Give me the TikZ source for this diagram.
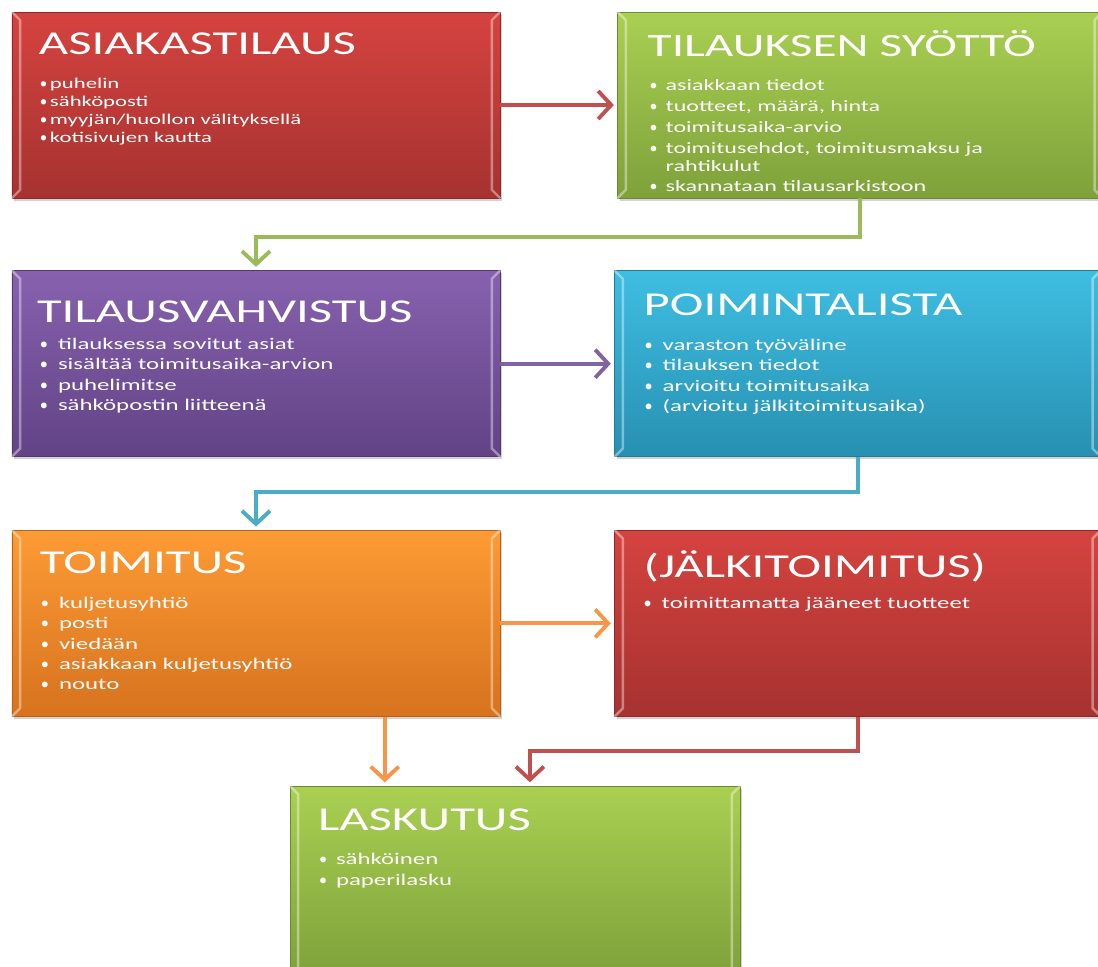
\documentclass[tikz,border=0pt]{standalone}
\usepackage{fontspec}
\setmainfont{Carlito}
\newfontfamily\leveafont[FakeStretch=1.52]{Carlito}
\newfontfamily\pistefont{Carlito}
\usetikzlibrary{calc,positioning,arrows.meta,shadows}
\newcommand{\kohta}[1][0.36cm]{\makebox[#1][l]{\pistefont •}}
\definecolor{punainenA}{HTML}{D5433F}
\definecolor{punainenB}{HTML}{A63230}
\definecolor{vihreaA}{HTML}{A9D052}
\definecolor{vihreaB}{HTML}{7EA13A}
\definecolor{violettiA}{HTML}{8761AE}
\definecolor{violettiB}{HTML}{624386}
\definecolor{syaaniA}{HTML}{3EBEE2}
\definecolor{syaaniB}{HTML}{2790B1}
\definecolor{oranssiA}{HTML}{FD9B35}
\definecolor{oranssiB}{HTML}{D7721E}
\definecolor{nuoliPun}{HTML}{C0504D}
\definecolor{nuoliVih}{HTML}{9BBB59}
\definecolor{nuoliVio}{HTML}{8064A2}
\definecolor{nuoliSya}{HTML}{4BACC6}
\definecolor{nuoliOra}{HTML}{F79646}
\tikzset{
    >={Straight Barb[length=2.6mm,width=5.6mm]},
    laatikko/.style 2 args={
      rectangle,
      top color=#1,
      bottom color=#2,
      draw=#2!85!black, thin,
      minimum width=9.76cm,
      minimum height=3.72cm,
      inner sep=0pt,
      drop shadow={shadow xshift=0.04cm, shadow yshift=-0.05cm, opacity=0.35}},
    bevel/.style={draw=white, draw opacity=0.4, line width=1.4pt},
    otsikko/.style={
      anchor=base west,
      inner sep=0pt,
      text=white,
      font=\leveafont\fontsize{19}{22}\selectfont},
    kohdat/.style={
      anchor=north west,
      inner sep=0pt,
      text=white,
      align=left,
      font=\leveafont\fontsize{9.3}{11.6}\selectfont},
    line/.style={draw=#1, line width=2.2pt, ->, shorten >=2pt},
}
\begin{document}
\begin{tikzpicture}
  \useasboundingbox (0,0) rectangle (21.96,-19.34);
  % laatikot
  \node[laatikko={punainenA}{punainenB}] (asiakas) at (5.12,-2.1) {};
  \node[laatikko={vihreaA}{vihreaB}, minimum width=9.7cm, right=2.34cm of asiakas] (syotto) {};
  \node[laatikko={violettiA}{violettiB}, below=1.44cm of asiakas] (vahvistus) {};
  \node[laatikko={syaaniA}{syaaniB}, minimum width=9.72cm, right=2.28cm of vahvistus] (poiminta) {};
  \node[laatikko={oranssiA}{oranssiB}, below=1.46cm of vahvistus] (toimitus) {};
  \node[laatikko={punainenA}{punainenB}, minimum width=9.72cm, right=2.28cm of toimitus] (jalki) {};
  \node[laatikko={vihreaA}{vihreaB}, minimum width=9cm, minimum height=3.8cm,
        below right=1.38cm and 5.56cm of toimitus.south west] (laskutus) {};
  \foreach \b in {asiakas,syotto,vahvistus,poiminta,toimitus,jalki,laskutus} {
    \draw[bevel] (\b.north west) -- ++(0.17,-0.17) -- ($(\b.south west)+(0.17,0.17)$) -- (\b.south west);
    \draw[bevel] (\b.north east) -- ++(-0.17,-0.17) -- ($(\b.south east)+(-0.17,0.17)$) -- (\b.south east);
  }
  % tekstit
  \node[otsikko] (asiakas-o) at ($(asiakas.north west)+(0.54,-0.86)$) {ASIAKASTILAUS};
  \node[kohdat, font=\leveafont\fontsize{8.5}{10.2}\selectfont] (asiakas-k)
    at ($(asiakas.north west)+(0.56,-1.33)$)
    {\kohta[0.2cm]puhelin\\\kohta[0.2cm]sähköposti\\\kohta[0.2cm]myyjän/huollon välityksellä\\\kohta[0.2cm]kotisivujen kautta};
  \node[otsikko, font=\leveafont\fontsize{18.5}{22}\selectfont] (syotto-o) at ($(syotto.north west)+(0.6,-0.9)$) {TILAUKSEN SYÖTTÖ};
  \node[kohdat, font=\leveafont\fontsize{9}{11.8}\selectfont] (syotto-k)
    at ($(syotto.north west)+(0.64,-1.36)$)
    {\kohta[0.32cm]asiakkaan tiedot\\\kohta[0.32cm]tuotteet, määrä, hinta\\\kohta[0.32cm]toimitusaika-arvio\\
     \kohta[0.32cm]toimitusehdot, toimitusmaksu ja\\[-1.6pt]\hspace*{0.32cm}rahtikulut\\\kohta[0.32cm]skannataan tilausarkistoon};
  \node[otsikko] (vahvistus-o) at ($(vahvistus.north west)+(0.5,-1.04)$) {TILAUSVAHVISTUS};
  \node[kohdat] (vahvistus-k) at ($(vahvistus.north west)+(0.56,-1.35)$)
    {\kohta tilauksessa sovitut asiat\\\kohta sisältää toimitusaika-arvion\\\kohta puhelimitse\\\kohta sähköpostin liitteenä};
  \node[otsikko] (poiminta-o) at ($(poiminta.north west)+(0.58,-0.9)$) {POIMINTALISTA};
  \node[kohdat] (poiminta-k) at ($(poiminta.north west)+(0.6,-1.37)$)
    {\kohta varaston työväline\\\kohta tilauksen tiedot\\\kohta arvioitu toimitusaika\\\kohta (arvioitu jälkitoimitusaika)};
  \node[otsikko] (toimitus-o) at ($(toimitus.north west)+(0.56,-0.86)$) {TOIMITUS};
  \node[kohdat] (toimitus-k) at ($(toimitus.north west)+(0.58,-1.33)$)
    {\kohta kuljetusyhtiö\\\kohta posti\\\kohta viedään\\\kohta asiakkaan kuljetusyhtiö\\\kohta nouto};
  \node[otsikko] (jalki-o) at ($(jalki.north west)+(0.58,-0.94)$) {(JÄLKITOIMITUS)};
  \node[kohdat] (jalki-k) at ($(jalki.north west)+(0.58,-1.33)$)
    {\kohta toimittamatta jääneet tuotteet};
  \node[otsikko] (laskutus-o) at ($(laskutus.north west)+(0.56,-0.9)$) {LASKUTUS};
  \node[kohdat] (laskutus-k) at ($(laskutus.north west)+(0.58,-1.35)$)
    {\kohta[0.34cm]sähköinen\\\kohta[0.34cm]paperilasku};
  % nuolet
  \coordinate (lask1) at ($(laskutus.north west)!0.211!(laskutus.north east)$);
  \coordinate (lask2) at ($(laskutus.north west)!0.533!(laskutus.north east)$);
  \draw[line=nuoliPun] (asiakas.east) -- (syotto.west);
  \draw[line=nuoliVih] (syotto.south) -- ++(0,-0.78) -| (vahvistus.north);
  \draw[line=nuoliVio] (vahvistus.east) -- (poiminta.west);
  \draw[line=nuoliSya] (poiminta.south) -- ++(0,-0.7) -| (toimitus.north);
  \draw[line=nuoliOra] (toimitus.east) -- (jalki.west);
  \draw[line=nuoliOra] (toimitus.south -| lask1) -- (lask1);
  \draw[line=nuoliPun] (jalki.south) -- ++(0,-0.68) -| (lask2);
\end{tikzpicture}
\end{document}
